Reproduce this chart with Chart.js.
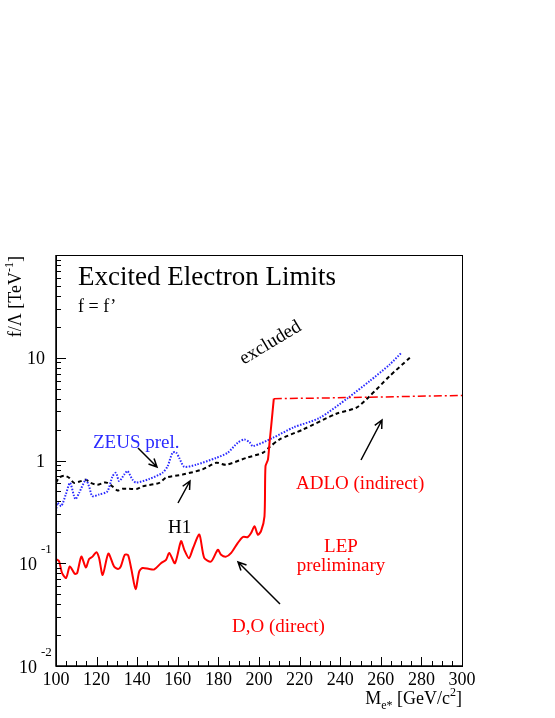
<!DOCTYPE html>
<html>
<head>
<meta charset="utf-8">
<script src="https://cdn.jsdelivr.net/npm/chart.js@4.4.1/dist/chart.umd.min.js"></script>
<style>
html, body { margin: 0; padding: 0; background: #fff; }
#wrap { width: 555px; height: 718px; position: relative; }
</style>
</head>
<body>
<div id="wrap"><canvas id="graf"></canvas></div>
<script>
// D,O direct search (LEP)
let doMass  = [100, 101.5, 103, 105, 106.8, 109.2, 110.4, 112.5, 114.7, 116.3, 118, 119.9, 121.2, 123, 125.8, 128.6, 130.6, 131.9, 133.9, 135.5, 137.2, 139.2, 141, 142.6, 145.9, 148.4, 151.7, 154.2, 155.8, 158.6, 161.6, 163.2, 165.5, 167.5, 170.6, 173, 176.4, 179.7, 181.3, 183.8, 186.3, 189.5, 192, 194.5, 196.1, 197.8, 199.4, 201, 202.7, 203.2, 204.4, 205.2, 206, 207.3]
let doLimit = [0.11, 0.105, 0.08, 0.072, 0.093, 0.079, 0.08, 0.116, 0.091, 0.11, 0.116, 0.128, 0.113, 0.077, 0.124, 0.093, 0.088, 0.093, 0.121, 0.12, 0.086, 0.056, 0.083, 0.09, 0.088, 0.087, 0.1, 0.108, 0.126, 0.1, 0.164, 0.135, 0.112, 0.14, 0.19, 0.113, 0.104, 0.135, 0.121, 0.116, 0.126, 0.157, 0.18, 0.18, 0.197, 0.229, 0.19, 0.205, 0.286, 0.88, 1.02, 1.5, 2.16, 4.0]

// ADLO indirect
let adloMass  = [207.3, 230, 260, 300]
let adloLimit = [4.0, 4.05, 4.15, 4.3]

// ZEUS prel.
let zeusMass  = [100, 100.7, 102.6, 104.8, 106.9, 108.9, 109.7, 111.4, 114.7, 116.3, 117.9, 121.2, 125.3, 127.8, 129.5, 131.1, 133.6, 135.2, 137.7, 139.4, 145.9, 152.5, 155, 157.4, 159.1, 160.7, 163.2, 169, 178.9, 184.6, 189.5, 192.8, 195.3, 197, 206.8, 217, 229.9, 243.9, 254.6, 264.4, 270.2]
let zeusLimit = [0.32, 0.387, 0.36, 0.466, 0.606, 0.45, 0.42, 0.484, 0.65, 0.56, 0.45, 0.466, 0.5, 0.7, 0.76, 0.63, 0.73, 0.79, 0.65, 0.61, 0.66, 0.76, 0.88, 1.19, 1.2, 1.06, 0.87, 0.91, 1.06, 1.19, 1.49, 1.6, 1.51, 1.38, 1.66, 2.1, 2.6, 4.08, 5.95, 8.6, 11.2]

// H1
let h1Mass  = [100, 101.5, 104, 106.4, 108.9, 112.2, 114.7, 117.1, 120.4, 123.7, 125.3, 127.8, 130.3, 132.7, 136, 140.1, 142.6, 150.9, 154.2, 162.4, 172.2, 178.9, 183.8, 193.7, 201.9, 205.2, 210, 221.6, 238.1, 248, 254.6, 264.4, 274.3]
let h1Limit = [0.606, 0.68, 0.71, 0.68, 0.606, 0.63, 0.65, 0.606, 0.58, 0.61, 0.606, 0.56, 0.51, 0.53, 0.53, 0.53, 0.56, 0.606, 0.68, 0.73, 0.82, 0.95, 0.91, 1.06, 1.19, 1.35, 1.6, 2.0, 2.85, 3.27, 4.24, 6.64, 10.0]

let xTicks = [100, 120, 140, 160, 180, 200, 220, 240, 260, 280, 300]
let yTicks = [0.01, 0.1, 1, 10]
let yTickLabels = [['10', '-2'], ['10', '-1'], ['1', ''], ['10', '']]

function pts(xs, ys) {
    let out = []
    for (let i = 0; i < xs.length; i++) out.push({ x: xs[i], y: ys[i] })
    return out
}

const SERIF = '"Liberation Serif", "DejaVu Serif", serif'
const RED = '#ff0000'
const BLUE = '#2a2aff'

function arrow(ctx, x1, y1, x2, y2) {
    let a = Math.atan2(y2 - y1, x2 - x1)
    let h = 9
    ctx.beginPath()
    ctx.moveTo(x1, y1)
    ctx.lineTo(x2, y2)
    ctx.moveTo(x2 - h * Math.cos(a - 0.45), y2 - h * Math.sin(a - 0.45))
    ctx.lineTo(x2, y2)
    ctx.lineTo(x2 - h * Math.cos(a + 0.45), y2 - h * Math.sin(a + 0.45))
    ctx.stroke()
}

const decor = {
    id: 'decor',
    afterDraw(chart) {
        let ctx = chart.ctx
        let xs = chart.scales.x, ys = chart.scales.y
        let a = chart.chartArea
        ctx.save()
        ctx.strokeStyle = '#000'
        ctx.lineWidth = 1
        ctx.strokeRect(a.left + 0.5, a.top + 0.5, a.right - a.left, a.bottom - a.top)
        ctx.lineWidth = 1.5
        ctx.beginPath()
        ctx.moveTo(a.left, a.top); ctx.lineTo(a.left, a.bottom); ctx.lineTo(a.right, a.bottom)
        ctx.stroke()

        // ticks
        ctx.lineWidth = 1
        ctx.beginPath()
        for (let v = 100; v <= 300; v += 5) {
            let px = Math.round(xs.getPixelForValue(v)) + 0.5
            let len = v % 20 === 0 ? 9 : 5
            ctx.moveTo(px, a.bottom); ctx.lineTo(px, a.bottom - len)
        }
        for (let e = -2; e <= 1; e++) {
            for (let m = 1; m <= 9; m++) {
                let py = Math.round(ys.getPixelForValue(m * Math.pow(10, e))) + 0.5
                let len = m === 1 ? 10 : 5
                ctx.moveTo(a.left, py); ctx.lineTo(a.left + len, py)
            }
        }
        ctx.stroke()

        // tick labels
        ctx.fillStyle = '#000'
        ctx.font = '18px ' + SERIF
        ctx.textAlign = 'center'
        ctx.textBaseline = 'alphabetic'
        xTicks.forEach(v => ctx.fillText(String(v), xs.getPixelForValue(v), a.bottom + 19))
        yTicks.forEach((v, i) => {
            let py = ys.getPixelForValue(v)
            let base = yTickLabels[i][0], sup = yTickLabels[i][1]
            if (sup) {
                ctx.font = '18px ' + SERIF
                ctx.textAlign = 'right'
                ctx.fillText(base, 37, py + 7)
                ctx.font = '13px ' + SERIF
                ctx.textAlign = 'left'
                ctx.fillText(sup, 41, py - 10)
            } else {
                ctx.font = '18px ' + SERIF
                ctx.textAlign = 'right'
                ctx.fillText(base, 45, py + 6)
            }
        })

        // x title
        ctx.textAlign = 'left'
        let parts = [['M', 18, 0], ['e*', 12, 5], [' [GeV/c', 18, 0], ['2', 12, -8], [']', 18, 0]]
        let total = 0
        parts.forEach(p => { ctx.font = p[1] + 'px ' + SERIF; total += ctx.measureText(p[0]).width })
        let cx = 462 - total
        parts.forEach(p => {
            ctx.font = p[1] + 'px ' + SERIF
            ctx.fillText(p[0], cx, 704 + p[2])
            cx += ctx.measureText(p[0]).width
        })

        // y title
        ctx.save()
        ctx.translate(21, 256)
        ctx.rotate(-Math.PI / 2)
        let yparts = [['f/\u039b [TeV', 18, 0], ['-1', 12, -8], [']', 18, 0]]
        total = 0
        yparts.forEach(p => { ctx.font = p[1] + 'px ' + SERIF; total += ctx.measureText(p[0]).width })
        cx = -total
        yparts.forEach(p => {
            ctx.font = p[1] + 'px ' + SERIF
            ctx.fillText(p[0], cx, p[2])
            cx += ctx.measureText(p[0]).width
        })
        ctx.restore()

        // annotations
        ctx.textAlign = 'left'
        ctx.fillStyle = '#000'
        ctx.font = '27px ' + SERIF
        ctx.fillText('Excited Electron Limits', 78, 285)
        ctx.font = '18px ' + SERIF
        ctx.fillText('f = f\u2019', 78, 312)
        ctx.font = '19px ' + SERIF
        ctx.fillText('H1', 168, 533)

        ctx.save()
        ctx.translate(270, 342)
        ctx.rotate(-31 * Math.PI / 180)
        ctx.textAlign = 'center'
        ctx.fillText('excluded', 0, 6)
        ctx.restore()

        ctx.fillStyle = BLUE
        ctx.fillText('ZEUS prel.', 93, 448)

        ctx.fillStyle = RED
        ctx.fillText('ADLO (indirect)', 296, 489)
        ctx.fillText('D,O (direct)', 232, 632)
        ctx.textAlign = 'center'
        ctx.fillText('LEP', 341, 552)
        ctx.fillText('preliminary', 341, 571)

        ctx.strokeStyle = '#000'
        ctx.lineWidth = 1.5
        arrow(ctx, 138, 448, 157, 467)
        arrow(ctx, 178, 503, 190, 481)
        arrow(ctx, 361, 460, 382, 420)
        arrow(ctx, 280, 604, 238, 562)
        ctx.restore()
    }
}

let ctx = document.getElementById('graf').getContext('2d')

const data = {
    datasets: [
        {
            label: 'D,O (direct)',
            data: pts(doMass, doLimit),
            borderColor: RED,
            borderWidth: 2,
            tension: 0.25
        },
        {
            label: 'ADLO (indirect)',
            data: pts(adloMass, adloLimit),
            borderColor: RED,
            borderWidth: 1.5,
            borderDash: [8, 3, 2, 3]
        },
        {
            label: 'ZEUS prel.',
            data: pts(zeusMass, zeusLimit),
            borderColor: BLUE,
            borderWidth: 2,
            borderDash: [1.5, 1.5],
            tension: 0.25
        },
        {
            label: 'H1',
            data: pts(h1Mass, h1Limit),
            borderColor: '#000',
            borderWidth: 2,
            borderDash: [4, 3],
            tension: 0.25
        }
    ]
}

const config = {
    type: 'line',
    data: data,
    options: {
        responsive: true,
        maintainAspectRatio: false,
        animation: false,
        layout: { padding: { left: 56, top: 255, right: 93, bottom: 52 } },
        elements: { point: { radius: 0 } },
        plugins: {
            legend: { display: false },
            tooltip: { enabled: false }
        },
        scales: {
            x: { type: 'linear', min: 100, max: 300, display: false },
            y: { type: 'logarithmic', min: 0.01, max: 100, display: false }
        }
    },
    plugins: [decor]
}

let meuGrafico = new Chart(ctx, config)
</script>
</body>
</html>
